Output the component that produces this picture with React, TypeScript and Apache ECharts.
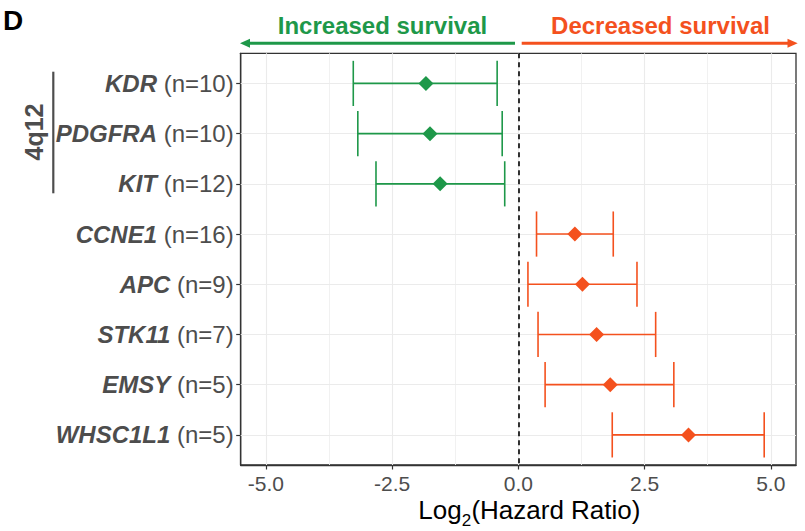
import React, { useEffect, useRef } from 'react';
import * as echarts from 'echarts';

// ---- data ----
const genes = ['KDR', 'PDGFRA', 'KIT', 'CCNE1', 'APC', 'STK11', 'EMSY', 'WHSC1L1'];
const counts = [10, 10, 12, 16, 9, 7, 5, 5];
const log2HR = [-1.83, -1.75, -1.55, 1.12, 1.27, 1.55, 1.82, 3.37];
const lower = [-3.27, -3.18, -2.82, 0.36, 0.19, 0.39, 0.53, 1.86];
const upper = [-0.42, -0.32, -0.27, 1.88, 2.35, 2.72, 3.08, 4.87];
const xTicks = [-5, -2.5, 0, 2.5, 5];
const xMinor = [-3.75, -1.25, 1.25, 3.75];
const headerLeft = 'Increased survival';
const headerRight = 'Decreased survival';
const groupLabel = '4q12';
const panelLabel = 'D';

const GREEN = '#1E9849';
const ORANGE = '#F4511E';
const FONT = "'Liberation Sans', Arial, Helvetica, sans-serif";
const GRAY30 = '#4d4d4d';

export default function App() {
  const ref = useRef<HTMLDivElement>(null);
  useEffect(() => {
    const chart = echarts.init(ref.current!, null, { renderer: 'svg' });
    const pos = genes.map((_, i) => i + 1);
    const colorOf = (v: number) => (v < 0 ? GREEN : ORANGE);

    const option: any = {
      animation: false,
      textStyle: { fontFamily: FONT },
      grid: {
        left: 240.7, right: 9, top: 53.3, bottom: 66,
        show: true, borderColor: '#333333', borderWidth: 1.3,
        containLabel: false,
      },
      xAxis: {
        type: 'value', min: -5.5, max: 5.5,
        splitLine: { show: false },
        axisLine: { show: true, onZero: false, lineStyle: { color: '#333333', width: 1.3 } },
        axisTick: { show: true, customValues: xTicks, length: 4.5, lineStyle: { color: '#333333', width: 1.2 } },
        axisLabel: {
          customValues: xTicks,
          formatter: (v: number) => v.toFixed(1),
          color: GRAY30, fontSize: 21, margin: 8, fontFamily: FONT,
        },
      },
      yAxis: {
        type: 'value', inverse: true, min: 0.4, max: 8.6,
        splitLine: { show: false },
        axisLine: { show: true, onZero: false, lineStyle: { color: '#333333', width: 1.3 } },
        axisTick: { show: true, customValues: pos, length: 4.5, lineStyle: { color: '#333333', width: 1.2 } },
        axisLabel: {
          customValues: pos,
          margin: 7,
          fontSize: 24, color: GRAY30, fontFamily: FONT,
          formatter: (v: number) => {
            const i = Math.round(v) - 1;
            return `{g|${genes[i]}} {n|(n=${counts[i]})}`;
          },
          rich: {
            g: { fontWeight: 'bold', fontStyle: 'italic', fontSize: 24, color: GRAY30, fontFamily: FONT },
            n: { fontSize: 24, color: GRAY30, fontFamily: FONT },
          },
        },
      },
      series: [
        {
          type: 'line', data: [], z: 1, silent: true,
          markLine: {
            z: 1,
            silent: true, symbol: 'none', label: { show: false },
            lineStyle: { color: '#EBEBEB', width: 1.1, type: 'solid' },
            data: [
              ...xMinor.map((v) => ({ xAxis: v, lineStyle: { color: '#EFEFEF', width: 0.9, type: 'solid' } })),
              ...xTicks.map((v) => ({ xAxis: v })),
              ...pos.map((v) => ({ yAxis: v })),
              { xAxis: 0, lineStyle: { color: '#000000', width: 1.6, type: [5, 4] } },
            ],
          },
        },
        {
          type: 'custom', z: 3,
          encode: { x: [0, 1], y: 2 },
          data: genes.map((_, i) => [lower[i], upper[i], pos[i]]),
          renderItem: (params: any, api: any) => {
            const lo = api.value(0);
            const hi = api.value(1);
            const y = api.value(2);
            const p1 = api.coord([lo, y]);
            const p2 = api.coord([hi, y]);
            const h = api.size([0, 0.45])[1];
            const stroke = colorOf(log2HR[params.dataIndex]);
            const style = { stroke, lineWidth: 1.6, opacity: 1 };
            return {
              type: 'group',
              children: [
                { type: 'line', shape: { x1: p1[0], y1: p1[1], x2: p2[0], y2: p2[1] }, style },
                { type: 'line', shape: { x1: p1[0], y1: p1[1] - h, x2: p1[0], y2: p1[1] + h }, style },
                { type: 'line', shape: { x1: p2[0], y1: p2[1] - h, x2: p2[0], y2: p2[1] + h }, style },
              ],
            };
          },
        },
        {
          type: 'scatter', z: 5,
          symbol: 'diamond', symbolSize: 15,
          itemStyle: { opacity: 1 },
          data: genes.map((_, i) => ({ value: [log2HR[i], pos[i]], itemStyle: { color: colorOf(log2HR[i]), opacity: 1 } })),
        },
      ],
      graphic: [
        { type: 'text', left: 3, top: 6, style: { text: panelLabel, font: `bold 28px ${FONT}`, fill: '#000' } },
        // header arrows
        { type: 'line', shape: { x1: 515, y1: 43.3, x2: 248, y2: 43.3 }, style: { stroke: GREEN, lineWidth: 3 } },
        { type: 'polygon', shape: { points: [[240, 43.3], [250, 38.8], [250, 47.8]] }, style: { fill: GREEN } },
        { type: 'line', shape: { x1: 521.7, y1: 43.3, x2: 790, y2: 43.3 }, style: { stroke: ORANGE, lineWidth: 3 } },
        { type: 'polygon', shape: { points: [[797.7, 43.3], [787.5, 38.8], [787.5, 47.8]] }, style: { fill: ORANGE } },
        { type: 'text', x: 382.5, y: 25, style: { text: headerLeft, font: `bold 24px ${FONT}`, fill: GREEN, align: 'center', verticalAlign: 'middle' } },
        { type: 'text', x: 660.5, y: 25, style: { text: headerRight, font: `bold 24px ${FONT}`, fill: ORANGE, align: 'center', verticalAlign: 'middle' } },
        // 4q12 bracket
        { type: 'line', shape: { x1: 53.3, y1: 71.7, x2: 53.3, y2: 193.3 }, style: { stroke: GRAY30, lineWidth: 2.2 } },
        { type: 'text', x: 34, y: 132, rotation: Math.PI / 2, style: { text: groupLabel, font: `bold 25px ${FONT}`, fill: GRAY30, align: 'center', verticalAlign: 'middle' } },
        // axis title
        { type: 'text', x: 418.3, y: 510, style: { text: 'Log', font: `26px ${FONT}`, fill: '#000', align: 'left', verticalAlign: 'middle' } },
        { type: 'text', x: 461.7, y: 520.5, style: { text: '2', font: `17px ${FONT}`, fill: '#000', align: 'left', verticalAlign: 'middle' } },
        { type: 'text', x: 471.4, y: 510, style: { text: '(Hazard Ratio)', font: `26px ${FONT}`, fill: '#000', align: 'left', verticalAlign: 'middle' } },
      ],
    };
    chart.setOption(option);
    return () => chart.dispose();
  }, []);
  return (
    <div
      ref={ref}
      style={{ position: 'fixed', left: 0, top: 0, width: 805, height: 531, background: '#fff' }}
    />
  );
}
